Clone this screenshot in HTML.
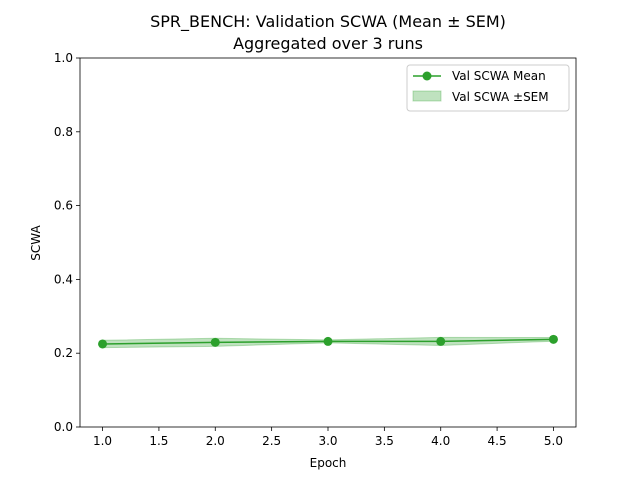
<!DOCTYPE html>
<html><head><meta charset="utf-8"><style>
body{margin:0;background:#fff;font-family:"Liberation Sans","DejaVu Sans",sans-serif;}
text{font-family:"DejaVu Sans","Liberation Sans",sans-serif;}
</style></head><body>
<svg id="chart" width="640" height="480" xmlns="http://www.w3.org/2000/svg"></svg>
<script>
const epochs=[1,2,3,4,5];
const meanVals=[0.225,0.2295,0.232,0.232,0.2375];
const semVals=[0.010,0.011,0.004,0.011,0.005];
const xTicks=["1.0","1.5","2.0","2.5","3.0","3.5","4.0","4.5","5.0"];
const yTicks=["0.0","0.2","0.4","0.6","0.8","1.0"];
const L=80,R=576,T=58,B=427;
const xs=v=>L+(v-0.8)/(5.2-0.8)*(R-L);
const ys=v=>B-v*(B-T);
const svg=document.getElementById('chart');
const NS="http://www.w3.org/2000/svg";
function mk(tag,at,name,txt){const e=document.createElementNS(NS,tag);for(const k in at)e.setAttribute(k,at[k]);


if(txt!==undefined)e.textContent=txt;svg.appendChild(e);return e;}
mk('text',{x:328,y:27,'text-anchor':'middle','font-size':16},'chart-title','SPR_BENCH: Validation SCWA (Mean ± SEM)');
mk('text',{x:328,y:49,'text-anchor':'middle','font-size':16},'chart-subtitle','Aggregated over 3 runs');
let up=epochs.map((e,i)=>xs(e)+','+ys(meanVals[i]+semVals[i]));
let dn=epochs.map((e,i)=>xs(e)+','+ys(meanVals[i]-semVals[i])).reverse();
mk('polygon',{points:up.concat(dn).join(' '),fill:'#2ca02c','fill-opacity':0.3,stroke:'#2ca02c','stroke-opacity':0.3},'sem-band');
mk('polyline',{points:epochs.map((e,i)=>xs(e)+','+ys(meanVals[i])).join(' '),fill:'none',stroke:'#2ca02c','stroke-width':1.5},'mean-line');
epochs.forEach((e,i)=>mk('circle',{cx:xs(e),cy:ys(meanVals[i]),r:4.5,fill:'#2ca02c'},'mean-point'));
mk('rect',{x:L,y:T,width:R-L,height:B-T,fill:'none',stroke:'#000','stroke-width':0.8},'plot-frame');
xTicks.forEach(t=>{const x=xs(+t);mk('line',{x1:x,x2:x,y1:B,y2:B+4,stroke:'#000','stroke-width':0.8},'x-tick');
mk('text',{x:x,y:B+18,'text-anchor':'middle','font-size':12},'x-tick-label',t);});
yTicks.forEach(t=>{const y=ys(+t);mk('line',{x1:L-4,x2:L,y1:y,y2:y,stroke:'#000','stroke-width':0.8},'y-tick');
mk('text',{x:L-7,y:y+4,'text-anchor':'end','font-size':12},'y-tick-label',t);});
mk('text',{x:328,y:467,'text-anchor':'middle','font-size':12},'x-axis-title','Epoch');
mk('text',{x:40,y:243,'text-anchor':'middle','font-size':12,transform:'rotate(-90 40 243)'},'y-axis-title','SCWA');
mk('rect',{x:407,y:65,width:162,height:46,rx:3,fill:'#fff',stroke:'#ccc'},'legend-box');
mk('line',{x1:413,x2:441,y1:76,y2:76,stroke:'#2ca02c','stroke-width':1.5},'legend-line-icon');
mk('circle',{cx:427,cy:76,r:4.5,fill:'#2ca02c'},'legend-marker-icon');
mk('text',{x:452,y:80,'font-size':12},'legend-mean-label','Val SCWA Mean');
mk('rect',{x:413,y:91,width:28,height:10,fill:'#2ca02c','fill-opacity':0.3,stroke:'#2ca02c','stroke-opacity':0.3},'legend-band-icon');
mk('text',{x:452,y:101,'font-size':12},'legend-sem-label','Val SCWA ±SEM');
</script>
</body></html>
